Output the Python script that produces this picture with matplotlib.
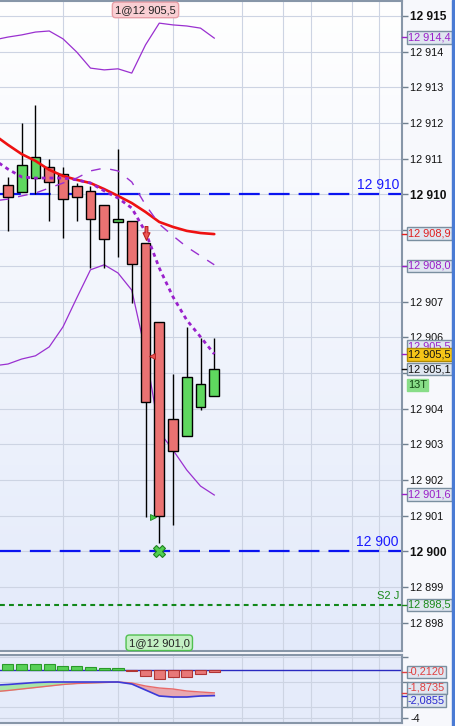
import numpy as np
import matplotlib
matplotlib.use("Agg")
import matplotlib.pyplot as plt
import matplotlib.transforms as mtransforms
from matplotlib.path import Path
from matplotlib.colors import LinearSegmentedColormap
from matplotlib.patches import Rectangle

plt.rcParams['font.family'] = ['Liberation Sans', 'DejaVu Sans']
plt.rcParams['lines.scale_dashes'] = False

# --- candles (index 0..15)
opens  = [12910.27, 12910.07, 12910.46, 12910.77, 12910.57, 12910.24, 12910.10, 12909.71,
          12909.22, 12909.26, 12908.64, 12906.43, 12903.71, 12903.24, 12904.05, 12904.36]
highs  = [12910.49, 12912.00, 12912.52, 12911.00, 12910.77, 12910.32, 12910.24, 12909.71,
          12911.27, 12909.26, 12908.64, 12906.43, 12904.97, 12906.29, 12905.98, 12905.98]
lows   = [12908.98, 12910.07, 12910.00, 12909.26, 12908.78, 12909.26, 12907.94, 12907.94,
          12908.25, 12906.96, 12900.97, 12900.24, 12900.74, 12903.24, 12903.96, 12904.36]
closes = [12909.93, 12910.83, 12911.05, 12910.35, 12909.87, 12909.93, 12909.31, 12908.75,
          12909.30, 12908.05, 12904.19, 12901.00, 12902.82, 12904.89, 12904.69, 12905.11]

# --- overlay lines (index -1..15)
ma_red = [12911.67, 12911.39, 12911.13, 12910.94, 12910.69, 12910.52, 12910.41, 12910.32, 12910.15,
          12909.96, 12909.76, 12909.51, 12909.23, 12909.09, 12908.98, 12908.92, 12908.89]
bb_upper = [12914.33, 12914.41, 12914.47, 12914.55, 12914.58, 12914.36, 12913.99, 12913.54, 12913.49,
            12913.52, 12913.40, 12914.19, 12914.80, 12914.75, 12914.72, 12914.66, 12914.38]
bb_lower = [12905.20, 12905.25, 12905.39, 12905.48, 12905.73, 12906.29, 12907.10, 12907.89, 12908.03,
            12907.80, 12907.32, 12905.59, 12903.35, 12902.84, 12902.28, 12901.83, 12901.58]
bb_mid = [12909.82, 12909.87, 12909.96, 12910.04, 12910.18, 12910.32, 12910.46, 12910.66, 12910.74,
          12910.66, 12910.35, 12909.71, 12909.17, 12908.84, 12908.53, 12908.28, 12908.03]
dotted_ma = [12910.97, 12910.71, 12910.49, 12910.46, 12910.46, 12910.46, 12910.41, 12910.32, 12910.10,
             12909.90, 12909.62, 12908.95, 12907.94, 12907.13, 12906.48, 12906.01, 12905.53]

# --- indicator panel
macd_blue = [-1.26, -1.20, -1.12, -1.04, -1.00, -1.00, -1.00, -1.00, -1.00,
             -1.00, -1.16, -1.64, -2.12, -2.20, -2.20, -2.12, -2.09]
macd_red = [-1.78, -1.68, -1.56, -1.44, -1.32, -1.20, -1.12, -1.08, -1.04,
            -1.00, -1.08, -1.32, -1.48, -1.56, -1.72, -1.80, -1.87]
macd_hist = [0.44, 0.44, 0.44, 0.44, 0.26, 0.26, 0.18, 0.10, 0.10,
             -0.10, -0.50, -0.79, -0.62, -0.57, -0.39, -0.21]

price_ticks = list(range(12898, 12916))
hidden_ticks = [12909, 12908, 12905]   # covered by value boxes in the reference
levels = [12910, 12900]
s2_level = 12898.5
vgrid = [4, 8, 12, 17, 20, 22, 25, 27]

idx = np.arange(len(opens))
xl = np.arange(-1, len(opens))
o = np.array(opens); c = np.array(closes)

fig = plt.figure(figsize=(4.56, 7.26), dpi=100)
fig.patch.set_facecolor('#f7f8fc')

grad = np.linspace(0, 1, 256).reshape(-1, 1)
bgcm = LinearSegmentedColormap.from_list('bg', ['#ffffff', '#e3eafa'])
rect_main = [0, 75/726, 402/456, 650/726]
rect_ind = [0, 3/726, 402/456, 68/726]
mbg = fig.add_axes(rect_main, zorder=-5)
mbg.imshow(grad, aspect='auto', cmap=bgcm, extent=[0, 1, 0, 1])
mbg.axis('off')

ax = fig.add_axes(rect_main, zorder=1)
ax.set_facecolor('none')
ax.set_xlim(-0.58, 28.65)
ax.set_ylim(12897.21, 12915.42)

ax.set_xticks(vgrid)
ax.tick_params(axis='x', length=0, labelbottom=False)
ax.yaxis.tick_right()
ax.set_yticks(price_ticks)
ax.set_yticklabels(['' if v in hidden_ticks else f"{v:,}".replace(",", " ") for v in price_ticks])
ax.tick_params(axis='y', length=4, width=1, color='#708090', pad=2, labelsize=7.8, labelcolor='#111111')
for lbl, v in zip(ax.get_yticklabels(), price_ticks):
    if v % 5 == 0:
        lbl.set_fontweight('bold')
        lbl.set_fontsize(8.6)
ax.grid(True, color='#cdd4e3', lw=0.8)
ax.set_axisbelow(True)
ax.spines['left'].set_visible(False)
for s in ['top', 'right', 'bottom']:
    ax.spines[s].set_color('#8796a8')
    ax.spines[s].set_linewidth(1.5)

# horizontal levels
for lv in levels:
    ax.axhline(lv, color='#0a14f0', lw=1.6, dashes=(15, 6.5), zorder=2)
ax.axhline(s2_level, color='#12881a', lw=1.5, dashes=(3.5, 3), zorder=2)

# bands
ax.plot(xl, bb_upper, color='#9a30d0', lw=0.9, zorder=2)
ax.plot(xl, bb_lower, color='#9a30d0', lw=0.9, zorder=2)

# candles
cols = ['#5fd85f' if cc >= oo else '#ea7272' for oo, cc in zip(o, c)]
ax.vlines(idx, lows, highs, color='black', lw=1, zorder=3)
ax.bar(idx, np.maximum(np.abs(c - o), 0.05), bottom=np.minimum(o, c), width=0.72,
       color=cols, edgecolor='black', linewidth=1, zorder=4)

ax.plot(xl, ma_red, color='#ee1111', lw=1.9, zorder=5, solid_capstyle='round')
ax.plot(xl, bb_mid, color='#9a30d0', lw=1.0, dashes=(7, 7), zorder=6)
ax.plot(xl, dotted_ma, color='#9a20cc', lw=2.0, dashes=(2.8, 2.8), zorder=6)

# markers
arrow = Path([(-0.2, 1), (0.2, 1), (0.2, 0.1), (0.5, 0.1), (0, -1), (-0.5, 0.1), (-0.2, 0.1), (-0.2, 1)],
             [Path.MOVETO] + [Path.LINETO] * 6 + [Path.CLOSEPOLY])
ax.plot([10], [12908.92], marker=arrow, ms=10, mfc='#ee5555', mec='#b82020', mew=0.8, ls='none', zorder=8)
ax.plot([10.47], [12905.48], marker='<', ms=5, mfc='#e85050', mec='#b02020', mew=0.6, ls='none', zorder=8)
ax.plot([10.55], [12900.97], marker='>', ms=5, mfc='#40cc40', mec='#208020', mew=0.6, ls='none', zorder=8)
ax.plot([11], [12900.0], marker='X', ms=9, mfc='#50d050', mec='#208020', mew=0.8, ls='none', zorder=8)

trans = mtransforms.blended_transform_factory(ax.transAxes, ax.transData)
ax.text(1 - 3/402, 12910 + 0.06, '12 910', transform=trans, ha='right', va='bottom', color='#1a1aff', fontsize=10, zorder=7)
ax.text(1 - 3/402, 12900 + 0.06, '12 900', transform=trans, ha='right', va='bottom', color='#1a1aff', fontsize=10, zorder=7)
ax.text(1 - 3/402, s2_level + 0.12, 'S2 J', transform=trans, ha='right', va='bottom', color='#1a8a1a', fontsize=8, zorder=7)

# trade annotations
ax.text(10, 12915.17, '1@12 905,5', ha='center', va='center', fontsize=8, color='#222222', zorder=9,
        bbox=dict(boxstyle='round,pad=0.25,rounding_size=0.3', fc='#f9cfd3', ec='#e8a0a8', lw=1))
ax.text(11, 12897.44, '1@12 901,0', ha='center', va='center', fontsize=8, color='#222222', zorder=9,
        bbox=dict(boxstyle='round,pad=0.25,rounding_size=0.3', fc='#c4f0c4', ec='#50c050', lw=1))


def axis_box(a, tr, y, text, tc, fc='#dfe6f0', ec='#7a8fa0', z=20, tick=None):
    a.text(1 + 6/402, y, text, transform=tr, ha='left', va='center', fontsize=7.9, color=tc,
           bbox=dict(boxstyle='square,pad=0.12', fc=fc, ec=ec, lw=1), clip_on=False, zorder=z)
    if tick is not None:
        a.plot([1, 1 + 4/402], [tick, tick], transform=tr, color=tc, lw=1, clip_on=False, zorder=z)


axis_box(ax, trans, 12914.40, '12 914,4', '#9a20c8', tick=12914.4)
axis_box(ax, trans, 12908.90, '12 908,9', '#e02020', tick=12908.9)
axis_box(ax, trans, 12908.00, '12 908,0', '#9a20c8', tick=12908.0)
axis_box(ax, trans, 12905.75, '12 905,5', '#9a20c8', z=20, tick=12905.53)
axis_box(ax, trans, 12905.52, '12 905,5', '#111111', fc='#f5c518', ec='#b08a00', z=21)
axis_box(ax, trans, 12905.11, '12 905,1', '#111111', z=22, tick=12905.11)
axis_box(ax, trans, 12904.66, '13T', '#114411', fc='#88dd88', ec='#88dd88', z=22)
axis_box(ax, trans, 12901.60, '12 901,6', '#9a20c8', tick=12901.6)
axis_box(ax, trans, 12898.50, '12 898,5', '#1a8a1a', tick=12898.5)

# --- indicator panel
ax2 = fig.add_axes(rect_ind, zorder=1)
ax2.set_facecolor('#e5ebfa')
ax2.set_xlim(-0.58, 28.65)
ax2.set_ylim(-4.28, 1.16)
ax2.set_xticks(vgrid)
ax2.tick_params(axis='x', length=0, labelbottom=False)
ax2.yaxis.tick_right()
ax2.set_yticks([1, -1, -3, -3.9])
ax2.set_yticklabels(['', '', '', '-4'])
ax2.tick_params(axis='y', length=4, width=1, color='#708090', pad=2, labelsize=7.8, labelcolor='#111111')
ax2.grid(True, color='#cdd4e3', lw=0.8)
ax2.set_axisbelow(True)
ax2.spines['left'].set_visible(False)
for s in ['top', 'right', 'bottom']:
    ax2.spines[s].set_color('#8796a8')
    ax2.spines[s].set_linewidth(1.5)

mb = np.array(macd_blue); mr = np.array(macd_red); hv = np.array(macd_hist)
ax2.axhline(0, color='#2a2ac0', lw=1, zorder=2)
ax2.bar(idx, hv, width=0.8, color=np.where(hv >= 0, '#58d058', '#e87878'),
        edgecolor=np.where(hv >= 0, '#2a9a2a', '#b03535'), linewidth=0.8, zorder=3)
ax2.fill_between(xl, mb, mr, where=mb >= mr, interpolate=True, color='#a8e6a8', lw=0, zorder=2)
ax2.fill_between(xl, mb, mr, where=mb < mr, interpolate=True, color='#e8a8b0', lw=0, zorder=2)
ax2.plot(xl, mr, color='#e86a6a', lw=1, zorder=3)
ax2.plot(xl, mb, color='#3a3ad8', lw=1.2, zorder=3)

trans2 = mtransforms.blended_transform_factory(ax2.transAxes, ax2.transData)
axis_box(ax2, trans2, -0.20, '-0,2120', '#e04040', tick=-0.21)
axis_box(ax2, trans2, -1.48, '-1,8735', '#e04040', tick=-1.87)
axis_box(ax2, trans2, -2.50, '-2,0855', '#2a2ad0', tick=-2.09)

fig.patches.append(Rectangle((452/456, 0), 4/456, 1, transform=fig.transFigure, color='#4a7bd4', zorder=30))

fig.savefig('out.png', dpi=100)
